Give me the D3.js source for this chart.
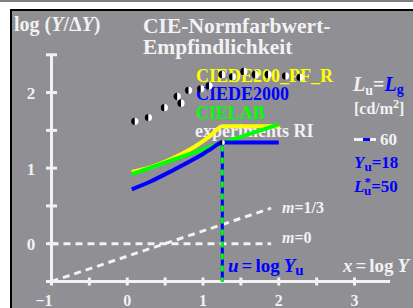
<!DOCTYPE html>
<html>
<head>
<meta charset="utf-8">
<script src="https://cdn.jsdelivr.net/npm/d3@7"></script>
<style>
  body { margin: 0; background: #fff; }
  text { font-family: "Liberation Serif", "Times New Roman", serif; font-weight: bold; }
</style>
</head>
<body>
<div id="chart"></div>
<script>
// values
const xTicks = [-1, 0, 1, 2, 3];
const xMinorTicks = [-0.5, 0.5, 1.5, 2.5];
const yTicks = [0, 1, 2];
const yMinorTicks = [-0.5, 0.5, 1.5, 2.5];

const yellowX = [0.06, 0.3, 0.6, 0.9, 1.1, 1.255, 2.0];
const yellowY = [0.95, 1.01, 1.13, 1.29, 1.43, 1.555, 1.555];
const greenX = [0.06, 1.255, 2.0];
const greenY = [0.92, 1.335, 1.58];
const blueX = [0.06, 0.3, 0.6, 0.9, 1.1, 1.255, 2.0];
const blueY = [0.72, 0.82, 0.97, 1.13, 1.25, 1.34, 1.34];

const dotX = [0.1, 0.28, 0.49, 0.66, 0.71, 0.81, 0.97, 1.08, 1.25, 1.39, 1.54, 1.69, 1.86, 2.09, 2.28];
const dotY = [1.62, 1.67, 1.80, 1.95, 1.86, 2.03, 2.05, 2.09, 2.24, 2.21, 2.28, 2.24, 2.24, 2.22, 2.20];

const uValue = 1.255;   // log 18
const kneeY = 1.34;
const refLineX = [-1, 1.9];
const m0Y = [0, 0];
const m13Y = [-0.5, 0.47];

const seriesNames = ["CIEDE200_PF_R", "CIEDE2000", "CIELAB", "experiments RI"];
const seriesColors = ["#ffff00", "#0000ff", "#00ff00", "#f2f2f2"];

const W = 413, H = 308;
const bg = "#8f8f94", fg = "#f2f2f2", blue = "#0000ff";

const svg = d3.select("#chart").append("svg")
    .attr("width", W).attr("height", H);

// page frame
svg.append("line").attr("x1", 0).attr("x2", W).attr("y1", 1).attr("y2", 1)
    .attr("stroke", "#555").attr("stroke-width", 1.5);
svg.append("rect").attr("x", 11).attr("y", 10).attr("width", W).attr("height", H)
    .attr("fill", bg).attr("stroke", "#000").attr("stroke-width", 2);

const x = d3.scaleLinear().domain([-1, 3]).range([51.5, 354.5]);
const y = d3.scaleLinear().domain([-0.5, 2.5]).range([281.5, 54.8]);

// axes
const axes = svg.append("g").attr("stroke", fg).attr("stroke-width", 3);
axes.append("line").attr("x1", x(-1)).attr("x2", x(3.47)).attr("y1", y(-0.5)).attr("y2", y(-0.5));
axes.append("line").attr("x1", x(-1)).attr("x2", x(-1)).attr("y1", y(-0.5)).attr("y2", y(2.5));
axes.selectAll(".xt").data(xTicks.concat(xMinorTicks)).enter().append("line")
    .attr("x1", d => x(d)).attr("x2", d => x(d)).attr("y1", y(-0.5) - 4).attr("y2", y(-0.5) + 4);
axes.selectAll(".yt").data(yTicks.concat(yMinorTicks)).enter().append("line")
    .attr("x1", x(-1) - 5.5).attr("x2", x(-1) + 5.5).attr("y1", d => y(d)).attr("y2", d => y(d));

svg.selectAll(".xl").data(xTicks).enter().append("text")
    .attr("x", d => d < 0 ? x(d) + 1 : x(d))
    .attr("y", 306)
    .attr("text-anchor", d => d < 0 ? "end" : "middle")
    .attr("fill", fg).attr("font-size", 16)
    .text(d => d < 0 ? "\u2212" + Math.abs(d) : d);
svg.selectAll(".yl").data(yTicks).enter().append("text")
    .attr("x", 31).attr("y", d => y(d) + 6.5)
    .attr("text-anchor", "middle")
    .attr("fill", fg).attr("font-size", 17)
    .text(d => d);

// titles
const t1 = svg.append("text").attr("x", 14).attr("y", 31).attr("fill", fg).attr("font-size", 20);
t1.append("tspan").text("log (");
t1.append("tspan").attr("font-style", "italic").text("Y");
t1.append("tspan").text("/\u0394");
t1.append("tspan").attr("font-style", "italic").text("Y");
t1.append("tspan").text(")");
svg.append("text").attr("x", 143).attr("y", 33).attr("fill", fg).attr("font-size", 21.5).text("CIE-Normfarbwert-");
svg.append("text").attr("x", 143).attr("y", 54).attr("fill", fg).attr("font-size", 21.5).text("Empfindlichkeit");

// series labels (under the marks)
const labelY = [81.5, 100, 119, 137];
svg.selectAll(".sl").data(seriesNames).enter().append("text")
    .attr("x", (d, i) => i === 3 ? 195 : 196)
    .attr("y", (d, i) => labelY[i])
    .attr("fill", (d, i) => seriesColors[i])
    .attr("font-size", 18)
    .text(d => d);

// dashed reference lines m=0, m=1/3
const refLine = d3.line().x(d => x(d[0])).y(d => y(d[1]));
svg.append("path").datum(refLineX.map((v, i) => [v, m0Y[i]]))
    .attr("d", refLine).attr("fill", "none").attr("stroke", fg)
    .attr("stroke-width", 3).attr("stroke-dasharray", "7,5");
svg.append("path").datum(refLineX.map((v, i) => [v, m13Y[i]]))
    .attr("d", refLine).attr("fill", "none").attr("stroke", fg)
    .attr("stroke-width", 3).attr("stroke-dasharray", "7,5");

const m1 = svg.append("text").attr("x", 282).attr("y", 213).attr("fill", fg).attr("font-size", 16);
m1.append("tspan").attr("font-style", "italic").text("m");
m1.append("tspan").text("=1/3");
const m2 = svg.append("text").attr("x", 282).attr("y", 243).attr("fill", fg).attr("font-size", 16);
m2.append("tspan").attr("font-style", "italic").text("m");
m2.append("tspan").text("=0");

// curves
const curve = d3.line().x(d => x(d[0])).y(d => y(d[1])).curve(d3.curveMonotoneX);
function drawCurve(xs, ys, color) {
  svg.append("path").datum(xs.map((v, i) => [v, ys[i]]))
     .attr("d", curve).attr("fill", "none").attr("stroke", color)
     .attr("stroke-width", 4);
}
drawCurve(yellowX, yellowY, "#ffff00");
drawCurve(greenX, greenY, "#00ff00");
drawCurve(blueX, blueY, "#0000ff");

// vertical line at u = log Yu
svg.append("line").attr("x1", x(uValue)).attr("x2", x(uValue))
    .attr("y1", y(kneeY)).attr("y2", y(-0.5))
    .attr("stroke", blue).attr("stroke-width", 3);
svg.append("line").attr("x1", x(uValue)).attr("x2", x(uValue))
    .attr("y1", y(kneeY) + 3).attr("y2", y(-0.5))
    .attr("stroke", "#00ff00").attr("stroke-width", 3).attr("stroke-dasharray", "6,6");

// half black / half white dots
function halfDot(cx, cy, r) {
  const g = svg.append("g").attr("transform", `translate(${cx},${cy})`);
  g.append("path").attr("d", `M0,${-r}A${r},${r} 0 0,0 0,${r}Z`).attr("fill", "#000");
  g.append("path").attr("d", `M0,${-r}A${r},${r} 0 0,1 0,${r}Z`).attr("fill", "#fff");
}
dotX.forEach((v, i) => halfDot(x(v), y(dotY[i]), 3.6));
halfDot(x(uValue), y(kneeY), 2.5);

// right legend
const r1 = svg.append("text").attr("x", 353).attr("y", 91).attr("font-size", 20);
r1.append("tspan").attr("fill", fg).attr("font-style", "italic").text("L");
r1.append("tspan").attr("fill", fg).attr("font-size", 14).attr("dy", 4).text("u");
r1.append("tspan").attr("fill", fg).attr("dy", -4).text("=");
r1.append("tspan").attr("fill", blue).attr("font-style", "italic").text("L");
r1.append("tspan").attr("fill", blue).attr("font-size", 14).attr("dy", 3).text("g");

const r2 = svg.append("text").attr("x", 354).attr("y", 114).attr("fill", fg).attr("font-size", 16);
r2.append("tspan").text("[cd/m");
r2.append("tspan").attr("font-size", 12).attr("dy", -6).text("2");
r2.append("tspan").attr("dy", 6).text("]");

svg.append("line").attr("x1", 354).attr("x2", 376).attr("y1", 139.5).attr("y2", 139.5)
    .attr("stroke", fg).attr("stroke-width", 3);
svg.append("line").attr("x1", 363).attr("x2", 370).attr("y1", 139.5).attr("y2", 139.5)
    .attr("stroke", blue).attr("stroke-width", 3);
svg.append("text").attr("x", 380).attr("y", 145).attr("fill", fg).attr("font-size", 17).text("60");

const r3 = svg.append("text").attr("x", 354).attr("y", 168).attr("fill", blue).attr("font-size", 17);
r3.append("tspan").attr("font-style", "italic").text("Y");
r3.append("tspan").attr("font-size", 13).attr("dy", 3).text("u");
r3.append("tspan").attr("dy", -3).text("=18");

const r4 = svg.append("text").attr("x", 354).attr("y", 192).attr("fill", blue).attr("font-size", 17);
r4.append("tspan").attr("font-style", "italic").text("L");
r4.append("tspan").attr("font-size", 13).attr("dy", -6).text("*");
r4.append("tspan").attr("font-size", 13).attr("dx", -7).attr("dy", 9).text("u");
r4.append("tspan").attr("dy", -3).text("=50");

// axis names
const u1 = svg.append("text").attr("x", 228).attr("y", 272).attr("fill", blue).attr("font-size", 19);
u1.append("tspan").attr("font-style", "italic").text("u");
u1.append("tspan").attr("dx", 3).text("=");
u1.append("tspan").attr("dx", 3).text("log");
u1.append("tspan").attr("dx", 4).attr("font-style", "italic").text("Y");
u1.append("tspan").attr("font-size", 15).attr("dy", 3).text("u");

const x1 = svg.append("text").attr("x", 343).attr("y", 272).attr("fill", fg).attr("font-size", 19);
x1.append("tspan").attr("font-style", "italic").text("x");
x1.append("tspan").attr("dx", 3).text("=");
x1.append("tspan").attr("dx", 3).text("log");
x1.append("tspan").attr("dx", 4).attr("font-style", "italic").text("Y");
</script>
</body>
</html>
